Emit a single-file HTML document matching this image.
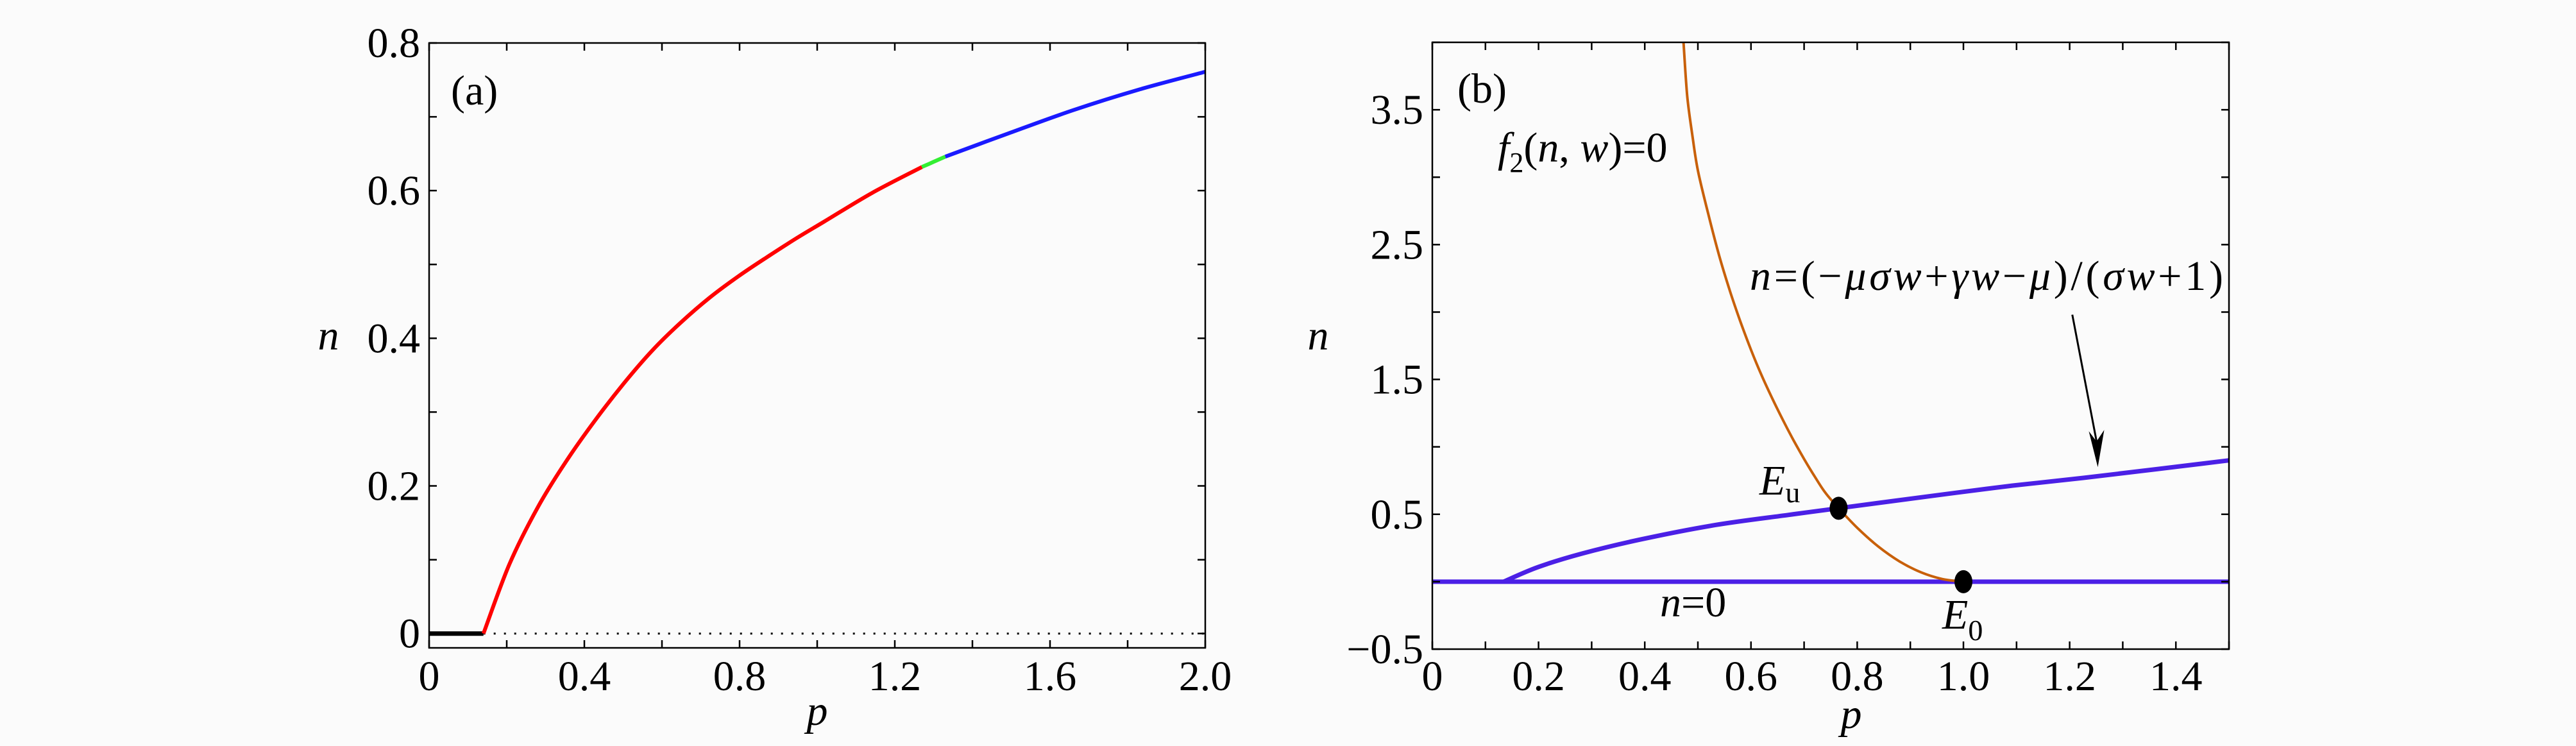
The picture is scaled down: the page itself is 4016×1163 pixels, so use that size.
<!DOCTYPE html>
<html><head><meta charset="utf-8"><style>
html,body{margin:0;padding:0;background:#fbfbfb;}
svg{display:block;}
text{font-family:"Liberation Serif","Times New Roman",serif;}
</style></head><body>
<svg id="fig" width="4016" height="1163" viewBox="0 0 4016 1163" font-family="Liberation Serif, serif">
<rect x="0" y="0" width="4016" height="1163" fill="#fbfbfb"/>
</svg>
<script>
// Panel (a) data
const aRedP = [0.14,0.207,0.28,0.354,0.428,0.502,0.576,0.65,0.723,0.797,0.871,0.945,1.018,1.142,1.27];
const aRedN = [0,0.094,0.171,0.234,0.289,0.339,0.384,0.422,0.455,0.484,0.51,0.535,0.558,0.597,0.632];
const aGreenP = [1.27,1.30,1.33];
const aGreenN = [0.632,0.639,0.646];
const aBlueP = [1.33,1.49,1.66,1.83,2.0];
const aBlueN = [0.646,0.677,0.709,0.737,0.761];
const aBlackP = [0,0.14];
const aBlackN = [0,0];
const aDotP = [0.14,2.0];
const aDotN = [0,0];
const aXTicks = ["0","0.4","0.8","1.2","1.6","2.0"];
const aXTickVals = [0,0.4,0.8,1.2,1.6,2.0];
const aYTicks = ["0","0.2","0.4","0.6","0.8"];
const aYTickVals = [0,0.2,0.4,0.6,0.8];
// Panel (b) data
const bOrangeP = [0.473,0.48,0.49,0.50,0.52,0.54,0.56,0.58,0.60,0.62,0.64,0.66,0.68,0.70,0.72,0.74,0.765,0.80,0.84,0.88,0.92,0.96,0.998];
const bOrangeN = [4.0,3.6,3.3,3.05,2.72,2.42,2.16,1.93,1.72,1.53,1.36,1.2,1.05,0.91,0.78,0.66,0.545,0.4,0.26,0.15,0.07,0.02,0];
const bBlueP = [0.134,0.2,0.283,0.394,0.532,0.67,0.765,0.948,1.087,1.226,1.364,1.5];
const bBlueN = [0,0.11,0.21,0.315,0.42,0.495,0.545,0.64,0.71,0.77,0.835,0.9];
const bZeroP = [0,1.5];
const bZeroN = [0,0];
const bPointP = [0.765,1.0];
const bPointN = [0.545,0];
const bXTicks = ["0","0.2","0.4","0.6","0.8","1.0","1.2","1.4"];
const bXTickVals = [0,0.2,0.4,0.6,0.8,1.0,1.2,1.4];
const bYTicks = ["\u22120.5","0.5","1.5","2.5","3.5"];
const bYTickVals = [-0.5,0.5,1.5,2.5,3.5];

const NS="http://www.w3.org/2000/svg";
const svg=document.getElementById('fig');
function mk(tag,attrs,parent){const e=document.createElementNS(NS,tag);for(const k in attrs)e.setAttribute(k,attrs[k]);(parent||svg).appendChild(e);return e;}
function scale(d0,d1,r0,r1){return v=>r0+(v-d0)/(d1-d0)*(r1-r0);}

const A={x0:669,x1:1879,y0:1010,y1:67,xmin:0,xmax:2.0,ymin:-0.0194,ymax:0.8};
const B={x0:2233,x1:3475,y0:1012,y1:66,xmin:0,xmax:1.5,ymin:-0.5,ymax:4.0};
[A,B].forEach(P=>{P.sx=scale(P.xmin,P.xmax,P.x0,P.x1);P.sy=scale(P.ymin,P.ymax,P.y0,P.y1);});

function smoothPath(pts){
  if(pts.length<3)return 'M'+pts.map(p=>p[0].toFixed(1)+','+p[1].toFixed(1)).join('L');
  let d='M'+pts[0][0].toFixed(1)+','+pts[0][1].toFixed(1);
  for(let i=0;i<pts.length-1;i++){
    const p0=pts[i-1]||pts[i],p1=pts[i],p2=pts[i+1],p3=pts[i+2]||p2;
    const c1=[p1[0]+(p2[0]-p0[0])/6,p1[1]+(p2[1]-p0[1])/6];
    const c2=[p2[0]-(p3[0]-p1[0])/6,p2[1]-(p3[1]-p1[1])/6];
    d+=`C${c1[0].toFixed(1)},${c1[1].toFixed(1)} ${c2[0].toFixed(1)},${c2[1].toFixed(1)} ${p2[0].toFixed(1)},${p2[1].toFixed(1)}`;
  }
  return d;
}
function line(P,xs,ys,color,w,name,dash){
  const pts=xs.map((x,i)=>[P.sx(x),P.sy(ys[i])]);
  const e=mk('path',{d:smoothPath(pts),fill:'none',stroke:color,'stroke-width':w,'stroke-linejoin':'round','stroke-linecap':'butt'});
  if(dash)e.setAttribute('stroke-dasharray',dash);
  
  
  return e;
}
function frame(P,minorX,minorY,name){
  const r=mk('rect',{x:P.x0,y:P.y1,width:P.x1-P.x0,height:P.y0-P.y1,fill:'none',stroke:'#000','stroke-width':2.5});
  
  
  minorX.forEach(v=>{const x=P.sx(v);
    const t=mk('path',{d:`M${x},${P.y0}v-12M${x},${P.y1}v12`,stroke:'#000','stroke-width':2.5});
    
    });
  minorY.forEach(v=>{const y=P.sy(v);
    const t=mk('path',{d:`M${P.x0},${y}h12M${P.x1},${y}h-12`,stroke:'#000','stroke-width':2.5});
    
    });
}
function txt(x,y,s,opts,name){
  const e=mk('text',Object.assign({x:x,y:y,'font-size':66,fill:'#000','font-family':'Liberation Serif, serif'},opts||{}));
  e.innerHTML=s;
  
  
  return e;
}
function ticks(P,xv,xl,yv,yl,name){
  xv.forEach((v,i)=>txt(P.sx(v),1076,xl[i],{'text-anchor':'middle'},name+'-x-tick-label'));
  yv.forEach((v,i)=>txt(P.x0-14,P.sy(v)+22,yl[i],{'text-anchor':'end'},name+'-y-tick-label'));
}

// Panel (a)
const aMinorX=[];for(let i=0;i<=10;i++)aMinorX.push(i*0.2);
const aMinorY=[];for(let i=0;i<=8;i++)aMinorY.push(i*0.1);
line(A,aDotP,aDotN,'#000',3,'a-unstable-zero-line','3 13');
line(A,aBlackP,aBlackN,'#000',7,'a-stable-zero-line');
line(A,aRedP,aRedN,'#ff0000',6,'a-red-branch');
line(A,aGreenP,aGreenN,'#33ee33',6,'a-green-branch');
line(A,aBlueP,aBlueN,'#1a1aff',6,'a-blue-branch');
frame(A,aMinorX,aMinorY,'a');
ticks(A,aXTickVals,aXTicks,aYTickVals,aYTicks,'a');
txt(703,163,'(a)',{},'a-panel-label');
txt(1274,1130,'p',{'font-style':'italic','text-anchor':'middle'},'a-x-axis-title');
txt(512,545,'n',{'font-style':'italic','text-anchor':'middle'},'a-y-axis-title');

// Panel (b)
const bMinorX=[];for(let i=0;i<=15;i++)bMinorX.push(i*0.1);
const bMinorY=[];for(let i=0;i<=9;i++)bMinorY.push(-0.5+i*0.5);
line(B,bZeroP,bZeroN,'#4b20e6',7,'b-zero-line');
line(B,bBlueP,bBlueN,'#4b20e6',7,'b-nullcline-curve');
line(B,bOrangeP,bOrangeN,'#c8600a',4,'b-f2-curve');
bPointP.forEach((p,i)=>{const c=mk('ellipse',{cx:B.sx(p),cy:B.sy(bPointN[i]),rx:14,ry:18,fill:'#000'});
  
  });
frame(B,bMinorX,bMinorY,'b');
ticks(B,bXTickVals,bXTicks,bYTickVals,bYTicks,'b');
txt(2272,160,'(b)',{},'b-panel-label');
txt(2886,1135,'p',{'font-style':'italic','text-anchor':'middle'},'b-x-axis-title');
txt(2055,545,'n',{'font-style':'italic','text-anchor':'middle'},'b-y-axis-title');
txt(2335,252,'<tspan font-style="italic">f</tspan><tspan font-size="44" dy="16">2</tspan><tspan dy="-16">(</tspan><tspan font-style="italic">n</tspan>, <tspan font-style="italic">w</tspan>)=0',{},'b-f2-label');
txt(2728,452,'<tspan font-style="italic">n</tspan>=(−<tspan font-style="italic">μσw</tspan>+<tspan font-style="italic">γw</tspan>−<tspan font-style="italic">μ</tspan>)/(<tspan font-style="italic">σw</tspan>+1)',{textLength:738},'b-nullcline-formula');
txt(2743,771,'<tspan font-style="italic">E</tspan><tspan font-size="46" dy="12">u</tspan>',{},'b-Eu-label');
txt(2588,961,'<tspan font-style="italic">n</tspan>=0',{},'b-n0-label');
txt(3028,980,'<tspan font-style="italic">E</tspan><tspan font-size="46" dy="18">0</tspan>',{},'b-E0-label');
// arrow
const ax0=B.sx(1.205),ay0=B.sy(1.98),ax1=B.sx(1.253),ay1=B.sy(0.85);
const ar=mk('path',{d:`M${ax0},${ay0}L${ax1},${ay1-30}`,stroke:'#000','stroke-width':3,fill:'none'});


const ah=mk('path',{d:`M${ax1},${ay1}L${ax1-14},${ay1-56}L${ax1-2},${ay1-40}L${ax1+10},${ay1-58}Z`,fill:'#000'});


</script>
</body></html>
